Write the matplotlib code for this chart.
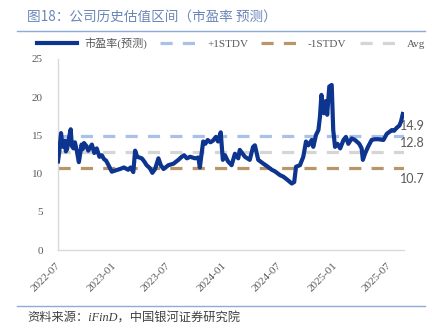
import matplotlib
matplotlib.use("Agg")
import matplotlib.pyplot as plt
import pandas as pd

# 市盈率(预测) series
dates = [
    "2022-06-18", "2022-06-22", "2022-06-28", "2022-07-02", "2022-07-05", "2022-07-11",
    "2022-07-14", "2022-07-18", "2022-07-24", "2022-07-30",
    "2022-08-03", "2022-08-08", "2022-08-13", "2022-08-19", "2022-08-26", "2022-09-04",
    "2022-09-08", "2022-09-12",
    "2022-09-20", "2022-09-26", "2022-10-08", "2022-10-16", "2022-10-24", "2022-11-02",
    "2022-11-10", "2022-11-17", "2022-11-24", "2022-12-02", "2022-12-13", "2022-12-24",
    "2023-01-09",
    "2023-01-22", "2023-02-05", "2023-02-13", "2023-02-22", "2023-02-28", "2023-03-07",
    "2023-03-22", "2023-03-30", "2023-04-07", "2023-04-18", "2023-04-26", "2023-05-05",
    "2023-05-16", "2023-05-24", "2023-06-02", "2023-06-18", "2023-07-05", "2023-07-21",
    "2023-08-01", "2023-08-09", "2023-08-18", "2023-08-29", "2023-09-14", "2023-09-25",
    "2023-09-30", "2023-10-11", "2023-10-18", "2023-10-26", "2023-11-04", "2023-11-12",
    "2023-11-22", "2023-11-29",
    "2023-12-08", "2023-12-15", "2023-12-22", "2024-01-01", "2024-01-13", "2024-01-24",
    "2024-02-04", "2024-02-09", "2024-02-26", "2024-03-13", "2024-03-24", "2024-03-30",
    "2024-04-10", "2024-04-27", "2024-05-08", "2024-05-25", "2024-06-04", "2024-06-21",
    "2024-07-02", "2024-07-15", "2024-07-30", "2024-08-07", "2024-08-13", "2024-08-26",
    "2024-09-06", "2024-09-15", "2024-09-23", "2024-10-04", "2024-10-09", "2024-10-18",
    "2024-10-26", "2024-10-31", "2024-11-05", "2024-11-13", "2024-11-20", "2024-11-24",
    "2024-12-01", "2024-12-09", "2024-12-14", "2024-12-20", "2024-12-28", "2025-01-06",
    "2025-01-17", "2025-01-25", "2025-02-02", "2025-02-13", "2025-02-24", "2025-03-10",
    "2025-03-18", "2025-03-22", "2025-03-29", "2025-04-08", "2025-04-20", "2025-05-01",
    "2025-05-12", "2025-05-29", "2025-06-09", "2025-06-26", "2025-07-03", "2025-07-12",
    "2025-07-21", "2025-07-26", "2025-08-01",
]
pe = [
    11.6, 12.8, 15.3, 14.0, 13.5, 14.3,
    12.9, 13.2, 14.6, 15.8,
    13.6, 13.3, 14.1, 13.0, 11.5, 13.8,
    13.2, 14.0,
    13.6, 13.0, 13.8, 12.7, 13.3, 12.2,
    12.4, 11.9, 11.7, 11.1, 10.25, 10.4,
    10.6,
    10.8, 10.5, 10.8, 10.2, 13.0, 12.2,
    12.0, 11.6, 11.1, 10.7, 10.1, 10.6,
    12.0, 11.1, 10.6, 11.1, 11.3, 11.8,
    12.2, 12.4, 12.0, 12.2, 12.0, 12.1,
    10.8, 14.2, 13.9, 14.4, 14.1, 14.3,
    14.8, 14.2,
    15.4, 11.8, 12.4, 11.6, 11.1, 12.6,
    12.0, 13.1, 12.2, 11.8, 13.5, 13.7,
    11.8, 11.3, 11.0, 10.5, 10.3, 9.8,
    9.6, 9.2, 8.7, 8.9, 10.9, 11.1,
    12.2, 14.2, 13.7, 14.4, 13.5, 15.05,
    15.7, 17.4, 20.3, 17.9, 19.5, 17.7,
    21.4, 21.6, 15.7, 13.5, 13.9, 13.3,
    14.4, 14.8, 13.9, 14.6, 14.4, 13.9,
    13.3, 11.8, 12.6, 13.5, 14.4, 14.5,
    14.5, 14.4, 15.2, 15.7, 15.6, 16.0,
    16.3, 16.8, 17.8,
]

plus_1std = 14.9
minus_1std = 10.7
avg = 12.8

x_start, x_end = "2022-06-18", "2025-08-05"
tick_dates = ["2022-07-01", "2023-01-01", "2023-07-01", "2024-01-01",
              "2024-07-01", "2025-01-01", "2025-07-01"]
tick_labels = ["2022-07", "2023-01", "2023-07", "2024-01", "2024-07", "2025-01", "2025-07"]
y_ticks = [0, 5, 10, 15, 20, 25]

title = "图18：公司历史估值区间（市盈率 预测）"
source = "资料来源：iFinD，中国银河证券研究院"
series_name = "市盈率(预测)"

C_SERIES = "#0d348f"
C_PLUS = "#a9c0e8"
C_MINUS = "#b8966a"
C_AVG = "#d5d5d5"
C_TEXT = "#595959"
C_RULE = "#8eaad8"

W, H = 432, 334
fig = plt.figure(figsize=(W / 100, H / 100), dpi=100)
ax = fig.add_axes([58 / W, 1 - 250 / H, (404 - 58) / W, (250 - 59) / H])

t = pd.to_datetime(dates)
t0, t1 = pd.Timestamp(x_start), pd.Timestamp(x_end)

dash = dict(lw=2.3, dashes=(3.8, 3.2))
l_plus, = ax.plot([t0, t1], [plus_1std] * 2, color=C_PLUS, label="+1STDV", **dash)
l_minus, = ax.plot([t0, t1], [minus_1std] * 2, color=C_MINUS, label="-1STDV", **dash)
l_avg, = ax.plot([t0, t1], [avg] * 2, color=C_AVG, label="Avg", **dash)
l_pe, = ax.plot(t, pe, color=C_SERIES, lw=3.0, solid_joinstyle="round",
                label=series_name, zorder=5)

ax.set_xlim(t0, t1)
ax.set_ylim(0, 25)
ax.set_yticks(y_ticks)
ax.set_yticklabels([str(v) for v in y_ticks], family="Liberation Serif",
                   fontsize=8, color=C_TEXT)
ax.set_xticks(pd.to_datetime(tick_dates))
ax.set_xticklabels(tick_labels, rotation=45, ha="right", family="Liberation Serif",
                   fontsize=8, color=C_TEXT)
ax.tick_params(axis="y", length=0, pad=11)
ax.tick_params(axis="x", length=0, pad=8)
for s in ("top", "right"):
    ax.spines[s].set_visible(False)
for s in ("left", "bottom"):
    ax.spines[s].set_color("#d9d9d9")
    ax.spines[s].set_linewidth(1.0)

# value labels at the right end
lab_kw = dict(family="Lato", fontsize=9, color=C_TEXT, ha="left", va="center",
              annotation_clip=False, textcoords="offset points")
ax.annotate(f"{plus_1std:.1f}", xy=(pd.Timestamp("2025-07-23"), plus_1std),
            xytext=(0, 7.5), **lab_kw)
ax.annotate(f"{avg:.1f}", xy=(pd.Timestamp("2025-07-23"), avg),
            xytext=(0, 6.5), **lab_kw)
ax.annotate(f"{minus_1std:.1f}", xy=(pd.Timestamp("2025-07-23"), minus_1std),
            xytext=(0, -7.5), **lab_kw)

fig.legend(handles=[l_pe, l_plus, l_minus, l_avg], loc="center",
           bbox_to_anchor=(0.535, 1 - 43 / H), ncol=4, frameon=False,
           prop={"family": ["Liberation Serif", "Noto Sans CJK SC"], "size": 8},
           labelcolor=C_TEXT, handlelength=3.6, handletextpad=0.6,
           columnspacing=1.2, borderpad=0)

fig.text(27 / W, 1 - 17 / H, title, family="Noto Sans CJK SC", fontsize=9.8,
         color="#6a86b8", va="center", ha="left")
fig.add_artist(plt.Line2D([17 / W, 425 / W], [1 - 31 / H] * 2, color=C_RULE, lw=1.0))
fig.add_artist(plt.Line2D([17 / W, 425 / W], [1 - 306 / H] * 2, color=C_RULE, lw=1.0))
fig.text(27 / W, 1 - 319 / H, source, family=["Liberation Serif", "Noto Sans CJK SC"],
         style="italic", fontsize=8.8, color="#404040", va="center", ha="left")

fig.savefig("out.png", dpi=100)
